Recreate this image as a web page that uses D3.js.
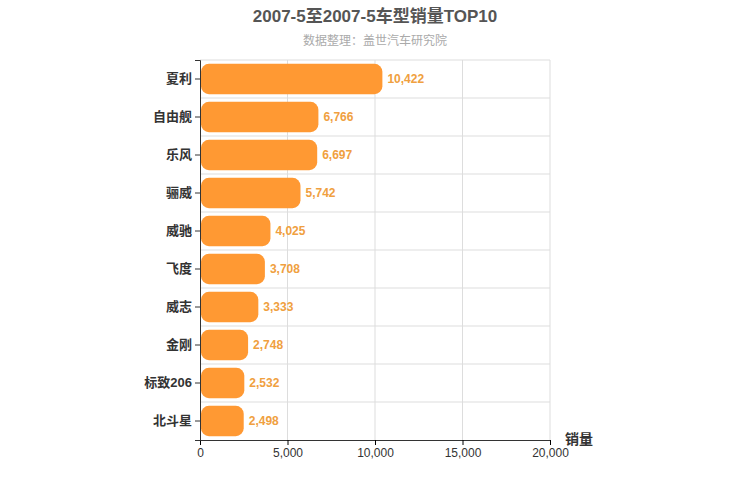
<!DOCTYPE html>
<html><head><meta charset="utf-8">
<script src="https://cdn.jsdelivr.net/npm/d3@7"></script>
<style>body{margin:0;background:#fff}</style></head>
<body><svg id="c" width="750" height="500"></svg>
<script>
const categories=["夏利","自由舰","乐风","骊威","威驰","飞度","威志","金刚","标致206","北斗星"];
const values=[10422,6766,6697,5742,4025,3708,3333,2748,2532,2498];
const xTicks=[0,5000,10000,15000,20000];
const svg=d3.select("#c");
const font="'Liberation Sans','Noto Sans CJK SC',sans-serif";
const L=200,R=550,T=60,B=440;
const x=d3.scaleLinear().domain([0,20000]).range([L,R]);
const y=d3.scaleBand().domain(categories).range([T,B]).paddingInner(0.2).paddingOuter(0.1);
const band=d3.scaleBand().domain(categories).range([T,B]);
// grid
svg.selectAll(".vg").data(xTicks.slice(1)).enter().append("line")
 .attr("x1",d=>x(d)).attr("x2",d=>x(d)).attr("y1",T).attr("y2",B).attr("stroke","#ddd");
svg.selectAll(".hg").data(categories).enter().append("line")
 .attr("x1",L).attr("x2",R).attr("y1",d=>band(d)).attr("y2",d=>band(d)).attr("stroke","#ddd");
// bars
svg.selectAll(".b").data(values).enter().append("rect")
 .attr("x",x(0)+1).attr("y",(d,i)=>y(categories[i]))
 .attr("width",d=>x(d)-x(0)-1).attr("height",y.bandwidth())
 .attr("rx",8).attr("fill","#ff9933");
svg.selectAll(".lb").data(values).enter().append("text")
 .attr("x",d=>x(d)+5).attr("y",(d,i)=>y(categories[i])+y.bandwidth()/2+4)
 .text(d=>d3.format(",")(d)).attr("fill","#f0a040").attr("font-size",12).attr("font-weight","bold").attr("font-family",font);
// axes
const gx=svg.append("g").attr("transform",`translate(0,${B})`).call(d3.axisBottom(x).tickValues(xTicks).tickFormat(d3.format(",")).tickSize(5));
gx.select(".domain").attr("stroke","#333");
gx.selectAll("text").attr("font-size",12).attr("fill","#333").attr("font-family",font);
const gy=svg.append("g").attr("transform",`translate(${L},0)`).call(d3.axisLeft(band).tickSize(5));
gy.select(".domain").attr("stroke","#333");
gy.selectAll("line").attr("stroke","#333");
gy.selectAll("text").attr("font-size",13).attr("font-weight","bold").attr("fill","#333").attr("font-family",font);
// titles
svg.append("text").attr("x",375).attr("y",22).attr("text-anchor","middle").attr("font-size",17).attr("font-weight","bold").attr("fill","#555").attr("font-family",font).text("2007-5至2007-5车型销量TOP10");
svg.append("text").attr("x",375).attr("y",45).attr("text-anchor","middle").attr("font-size",12).attr("fill","#aaa").attr("font-family",font).text("数据整理：盖世汽车研究院");
svg.append("text").attr("x",565).attr("y",444).attr("font-size",14).attr("font-weight","bold").attr("fill","#333").attr("font-family",font).text("销量");
</script></body></html>
